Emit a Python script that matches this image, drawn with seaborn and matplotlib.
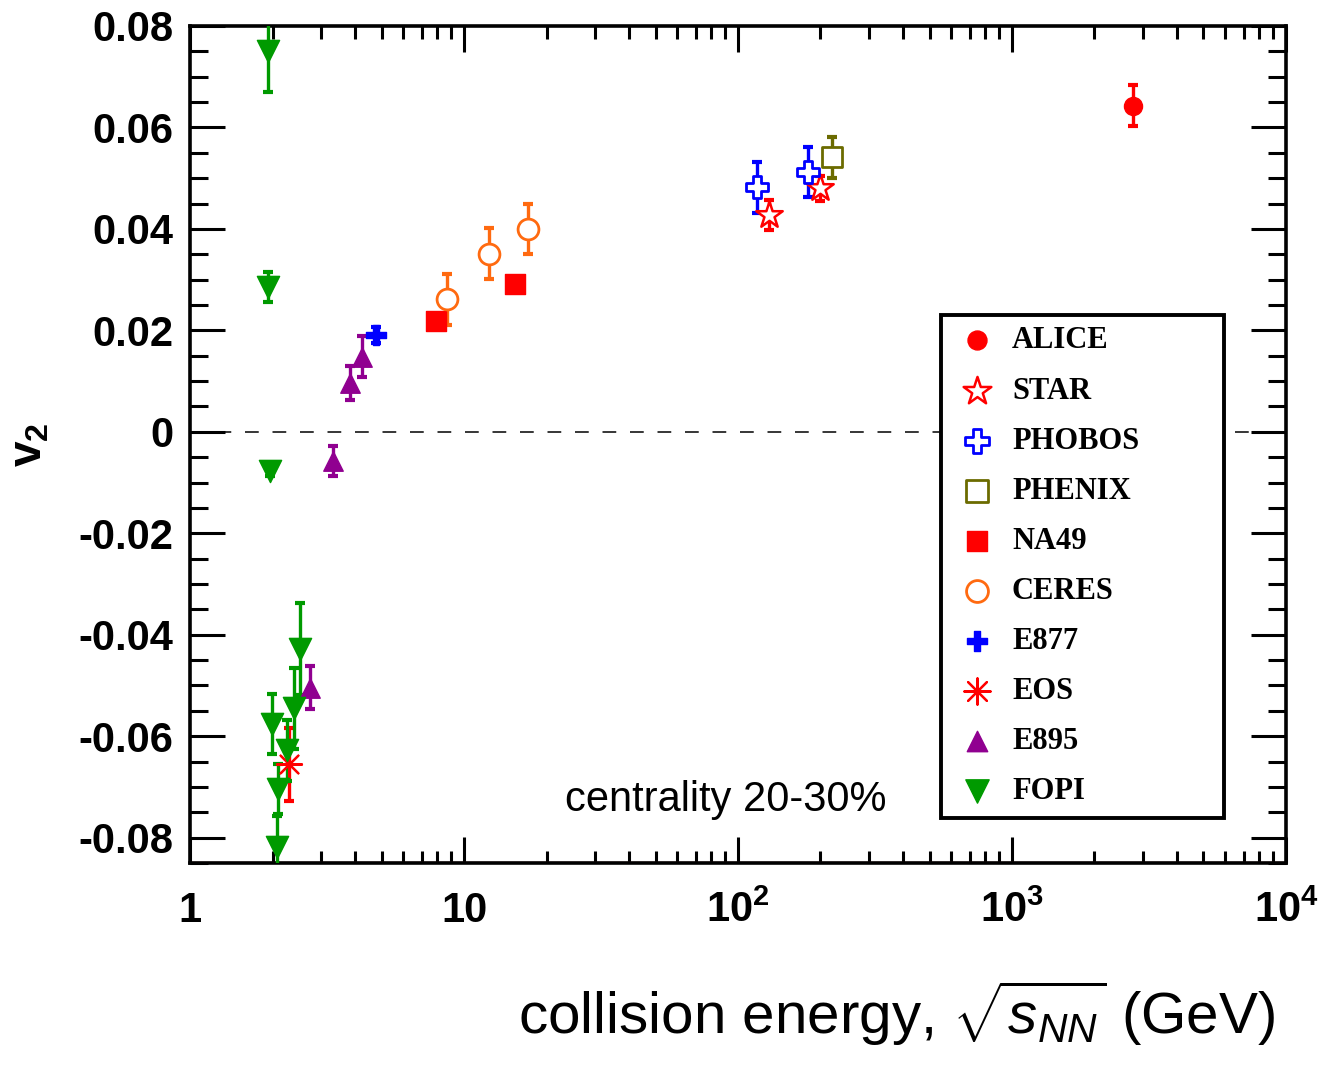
import matplotlib
matplotlib.use("Agg")
import matplotlib.pyplot as plt
import seaborn as sns
import numpy as np
from matplotlib.ticker import FixedLocator, FixedFormatter, LogLocator, MultipleLocator, NullFormatter

# v2 vs collision energy, centrality 20-30%
alice_x = [2760]
alice_v2 = [0.0643]
alice_err = [0.004]

star_x = [130, 200]
star_v2 = [0.0427, 0.0480]
star_err = [0.003, 0.0025]

phobos_x = [117, 180]
phobos_v2 = [0.0482, 0.0512]
phobos_err = [0.005, 0.005]

phenix_x = [221]
phenix_v2 = [0.0541]
phenix_err = [0.004]

na49_x = [7.9, 15.4]
na49_v2 = [0.0219, 0.0292]
na49_err = [0.001, 0.001]

ceres_x = [8.65, 12.3, 17.1]
ceres_v2 = [0.0261, 0.0351, 0.0400]
ceres_err = [0.005, 0.005, 0.005]

e877_x = [4.76]
e877_v2 = [0.0191]
e877_err = [0.0015]

eos_x = [2.30]
eos_v2 = [-0.0655]
eos_err = [0.0072]

e895_x = [2.73, 3.32, 3.84, 4.23]
e895_v2 = [-0.0504, -0.0058, 0.0096, 0.0148]
e895_err = [0.0042, 0.003, 0.0033, 0.004]

fopi_x = [1.92, 1.93, 1.95, 1.99, 2.07, 2.10, 2.25, 2.40, 2.51]
fopi_v2 = [0.075, 0.0286, -0.0077, -0.0576, -0.0818, -0.0704, -0.0628, -0.0545, -0.0428]
fopi_err = [0.008, 0.003, 0.001, 0.006, 0.006, 0.005, 0.006, 0.008, 0.009]

x_ticks = [1, 10, 100, 1000, 10000]
x_labels = ["1", "10", r"10$^{\mathbf{2}}$", r"10$^{\mathbf{3}}$", r"10$^{\mathbf{4}}$"]
y_ticks = [-0.08, -0.06, -0.04, -0.02, 0, 0.02, 0.04, 0.06, 0.08]
y_labels = ["-0.08", "-0.06", "-0.04", "-0.02", "0", "0.02", "0.04", "0.06", "0.08"]

sns.set_style("ticks")
plt.rcParams["font.family"] = ["Liberation Sans", "DejaVu Sans"]
plt.rcParams["mathtext.fontset"] = "custom"
plt.rcParams["mathtext.rm"] = "Liberation Sans"
plt.rcParams["mathtext.it"] = "Liberation Sans:italic"
plt.rcParams["mathtext.bf"] = "Liberation Sans:bold"
for key in ["text.color", "axes.labelcolor", "xtick.color", "ytick.color", "axes.edgecolor"]:
    plt.rcParams[key] = "black"

fig = plt.figure(figsize=(13.18, 10.68), dpi=100)
ax = fig.add_axes([0.1442, 0.1919, 0.8315, 0.7838])

# (label, x, y, err, marker, color, face, size, lw)
series = [
    ("ALICE", alice_x, alice_v2, alice_err, "o", "#ff0000", "#ff0000", 13, 1),
    ("STAR", star_x, star_v2, star_err, "*", "#ff0000", "white", 20, 1.8),
    ("PHOBOS", phobos_x, phobos_v2, phobos_err, "P", "#0000ff", "white", 16, 2),
    ("PHENIX", phenix_x, phenix_v2, phenix_err, "s", "#6b6b00", "white", 15, 2),
    ("NA49", na49_x, na49_v2, na49_err, "s", "#ff0000", "#ff0000", 14, 1),
    ("CERES", ceres_x, ceres_v2, ceres_err, "o", "#ff6a10", "white", 15, 2),
    ("E877", e877_x, e877_v2, e877_err, "P", "#0000ff", "#0000ff", 14, 1),
    ("EOS", eos_x, eos_v2, eos_err, (8, 2, 0), "#ff0000", "#ff0000", 18, 1.6),
    ("E895", e895_x, e895_v2, e895_err, "^", "#900090", "#900090", 14, 1),
    ("FOPI", fopi_x, fopi_v2, fopi_err, "v", "#009a00", "#009a00", 16, 1),
]

ax.axhline(0, color="black", lw=1.1, dashes=(9, 9), zorder=1)
ax.axhline(-0.0847, color="#ff6060", lw=1.0, zorder=1)

for label, xs, ys, es, mk, col, face, ms, lw in series:
    ax.errorbar(xs, ys, yerr=es, fmt="none", ecolor=col, elinewidth=2.4,
                capsize=3.6, capthick=3.0, zorder=3)
    sns.scatterplot(x=xs, y=ys, ax=ax, marker=mk, s=ms ** 2, color=face,
                    edgecolor=col, linewidth=lw, label=label, zorder=4,
                    clip_on=False)

ax.set_xscale("log")
ax.set_xlim(1, 10000)
ax.set_ylim(-0.085, 0.08)

ax.xaxis.set_major_locator(FixedLocator(x_ticks))
ax.xaxis.set_major_formatter(FixedFormatter(x_labels))
ax.xaxis.set_minor_locator(LogLocator(base=10, subs=np.arange(2, 10), numticks=20))
ax.xaxis.set_minor_formatter(NullFormatter())
ax.yaxis.set_major_locator(FixedLocator(y_ticks))
ax.yaxis.set_major_formatter(FixedFormatter(y_labels))
ax.yaxis.set_minor_locator(MultipleLocator(0.005))

ax.tick_params(axis="both", which="both", direction="in", top=True, right=True,
               color="black", width=2.2)
ax.tick_params(axis="x", which="major", length=19, pad=20, labelsize=30)
ax.tick_params(axis="x", which="minor", length=9)
ax.tick_params(axis="y", which="major", length=25, pad=12, labelsize=30)
ax.tick_params(axis="y", which="minor", length=13)
for lab in ax.get_xticklabels() + ax.get_yticklabels():
    lab.set_fontweight("bold")

for sp in ax.spines.values():
    sp.set_linewidth(2.6)
    sp.set_color("black")
    sp.set_visible(True)

ax.set_ylabel(r"$\mathbf{v_2}$", fontsize=33, fontweight="bold")
ax.yaxis.set_label_coords(-0.126, 0.5)

ax.set_xlabel(r"collision energy, $\sqrt{s_{NN}}$ (GeV)", fontsize=42, ha="right", va="top")
ax.xaxis.set_label_coords(0.99, -0.138)

ax.text(0.342, 0.075, "centrality 20-30%", transform=ax.transAxes, fontsize=30,
        ha="left", va="center")

leg = ax.legend(loc="lower left", bbox_to_anchor=(0.685, 0.054, 0.258, 0.6),
                mode="expand", frameon=True,
                fancybox=False, edgecolor="black", framealpha=1,
                prop={"family": "Liberation Serif", "weight": "bold", "size": 22},
                labelspacing=0.69, handlelength=1.6, handletextpad=0.35,
                borderpad=0.38, borderaxespad=0, markerscale=1.05)
leg.get_frame().set_linewidth(2.8)
leg.set_zorder(5)

fig.savefig("out.png", dpi=100)
